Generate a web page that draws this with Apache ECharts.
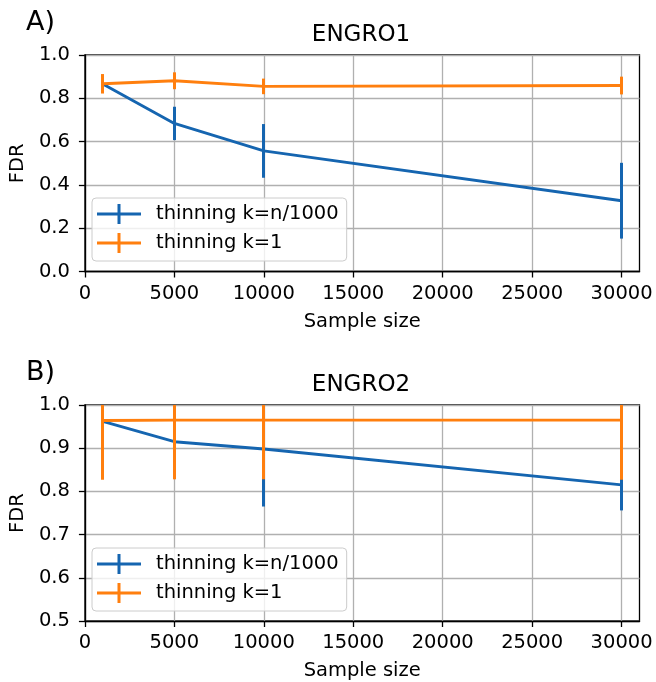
<!DOCTYPE html>
<html>
<head>
<meta charset="utf-8">
<script src="https://cdn.jsdelivr.net/npm/echarts@6/dist/echarts.min.js"></script>
<style>
  html, body { margin: 0; padding: 0; background: #ffffff; }
  #chart { width: 656px; height: 682px; }
</style>
</head>
<body>
<div id="chart"></div>
<script>
// Sample sizes shared by both panels
const sampleSizes = [1000, 5000, 10000, 30000];
const xTickValues = [0, 5000, 10000, 15000, 20000, 25000, 30000];

// Panel A (ENGRO1): mean FDR and error half-widths
const engro1ThinN = [0.866, 0.684, 0.557, 0.327];
const engro1ThinNErr = [0.03, 0.077, 0.124, 0.175];
const engro1Thin1 = [0.867, 0.881, 0.855, 0.859];
const engro1Thin1Err = [0.045, 0.039, 0.036, 0.041];

// Panel B (ENGRO2)
const engro2ThinN = [0.962, 0.915, 0.898, 0.815];
const engro2ThinNErr = [0.06, 0.07, 0.133, 0.059];
const engro2Thin1 = [0.964, 0.965, 0.965, 0.965];
const engro2Thin1Err = [0.137, 0.137, 0.137, 0.138];

const seriesNames = ['thinning k=n/1000', 'thinning k=1'];
const panelTitles = ['ENGRO1', 'ENGRO2'];
const panelTags = ['A)', 'B)'];

const BLUE = '#1565b0';
const ORANGE = '#ff7f0e';
const FONT = 'DejaVu Sans';
const TICK_FS = 19.5;

const chart = echarts.init(document.getElementById('chart'), null, { renderer: 'canvas' });

const gridTops = [55, 405];
const gridLeft = 82.5, gridWidth = 557, gridHeight = 216.5;

function lineData(vals) {
  return sampleSizes.map((s, i) => [s, vals[i]]);
}
function errData(vals, errs) {
  return sampleSizes.map((s, i) => [s, vals[i] - errs[i], vals[i] + errs[i]]);
}

// vertical error bar, clipped to the plot area
function errRenderer(color) {
  return function (params, api) {
    const x = api.value(0);
    const p1 = api.coord([x, api.value(1)]);
    const p2 = api.coord([x, api.value(2)]);
    const cs = params.coordSys;
    const top = Math.max(Math.min(p1[1], p2[1]), cs.y);
    const bottom = Math.min(Math.max(p1[1], p2[1]), cs.y + cs.height);
    if (bottom <= top) return null;
    const px = Math.round(p1[0] - 0.5) + 0.5;
    return {
      type: 'line',
      shape: { x1: px, y1: top, x2: px, y2: bottom },
      style: { stroke: color, lineWidth: 3 }
    };
  };
}

function xAxisFor(gi) {
  return {
    type: 'value', gridIndex: gi, min: 0, max: 31000, interval: 5000,
    name: 'Sample size', nameLocation: 'middle', nameGap: 40,
    nameTextStyle: { fontFamily: FONT, fontSize: TICK_FS, color: '#000' },
    axisLine: { show: true, onZero: false, lineStyle: { color: '#000', width: 1.3 } },
    axisTick: { show: true, length: 6, customValues: xTickValues, lineStyle: { color: '#000', width: 1.3 } },
    axisLabel: {
      margin: 12, customValues: xTickValues, fontFamily: FONT, fontSize: TICK_FS, color: '#000',
      formatter: v => String(v)
    },
    splitLine: { show: true, lineStyle: { color: '#b0b0b0', width: 1.3 } }
  };
}

function yAxisFor(gi, min, interval) {
  return {
    type: 'value', gridIndex: gi, min: min, max: 1.0, interval: interval,
    name: 'FDR', nameLocation: 'middle', nameGap: 54, nameRotate: 90,
    nameTextStyle: { fontFamily: FONT, fontSize: TICK_FS, color: '#000' },
    axisLine: { show: true, onZero: false, lineStyle: { color: '#000', width: 1.3 } },
    axisTick: { show: true, length: 6, lineStyle: { color: '#000', width: 1.3 } },
    axisLabel: {
      margin: 15, fontFamily: FONT, fontSize: TICK_FS, color: '#000',
      formatter: v => v.toFixed(1)
    },
    splitLine: { show: true, lineStyle: { color: '#b0b0b0', width: 1.3 } }
  };
}

// plus-shaped legend key: line with a vertical error bar through it
const plusIcon = 'path://M0,8.6H44V11.4H0Z M20.5,0H23.5V20H20.5Z';

function legendFor(top) {
  return {
    orient: 'vertical', left: 92, top: top,
    padding: [6, 8, 8, 5],
    itemWidth: 44, itemHeight: 20, itemGap: 9,
    backgroundColor: 'rgba(255,255,255,0.8)',
    borderColor: '#cccccc', borderWidth: 1, borderRadius: 4,
    selectedMode: false,
    textStyle: { fontFamily: FONT, fontSize: TICK_FS, color: '#000', padding: [0, 0, 0, 10], lineHeight: 20 },
    data: seriesNames.map(n => ({ name: n, icon: plusIcon }))
  };
}

function panelSeries(gi, blueVals, blueErr, orangeVals, orangeErr) {
  return [
    {
      type: 'custom', name: 'errN' + gi, xAxisIndex: gi, yAxisIndex: gi,
      renderItem: errRenderer(BLUE), data: errData(blueVals, blueErr),
      encode: { x: 0, y: [1, 2] }, z: 2, silent: true
    },
    {
      type: 'line', name: seriesNames[0], xAxisIndex: gi, yAxisIndex: gi,
      data: lineData(blueVals), color: BLUE, symbol: 'none', showSymbol: false,
      lineStyle: { color: BLUE, width: 2.9 }, z: 3, silent: true
    },
    {
      type: 'custom', name: 'err1' + gi, xAxisIndex: gi, yAxisIndex: gi,
      renderItem: errRenderer(ORANGE), data: errData(orangeVals, orangeErr),
      encode: { x: 0, y: [1, 2] }, z: 4, silent: true
    },
    {
      type: 'line', name: seriesNames[1], xAxisIndex: gi, yAxisIndex: gi,
      data: lineData(orangeVals), color: ORANGE, symbol: 'none', showSymbol: false,
      lineStyle: { color: ORANGE, width: 2.9 }, z: 5, silent: true
    }
  ];
}

const titleGraphics = [];
gridTops.forEach((top, i) => {
  titleGraphics.push({
    type: 'text', x: 26, y: top - 32,
    style: { text: panelTags[i], font: '27px "DejaVu Sans"', fill: '#000', textVerticalAlign: 'middle' }
  });
  titleGraphics.push({
    type: 'text', x: gridLeft + gridWidth / 2, y: top - 20,
    style: { text: panelTitles[i], font: '23px "DejaVu Sans"', fill: '#000', textAlign: 'center', textVerticalAlign: 'middle' }
  });
});

const option = {
  backgroundColor: '#ffffff',
  animation: false,
  grid: gridTops.map(t => ({
    left: gridLeft, top: t, width: gridWidth, height: gridHeight,
    show: true, borderColor: '#000', borderWidth: 1.3, backgroundColor: 'transparent',
    containLabel: false
  })),
  xAxis: [xAxisFor(0), xAxisFor(1)],
  yAxis: [yAxisFor(0, 0, 0.2), yAxisFor(1, 0.5, 0.1)],
  legend: [legendFor(198), legendFor(548)],
  series: [
    ...panelSeries(0, engro1ThinN, engro1ThinNErr, engro1Thin1, engro1Thin1Err),
    ...panelSeries(1, engro2ThinN, engro2ThinNErr, engro2Thin1, engro2Thin1Err)
  ],
  graphic: titleGraphics
};

chart.setOption(option);
</script>
</body>
</html>
